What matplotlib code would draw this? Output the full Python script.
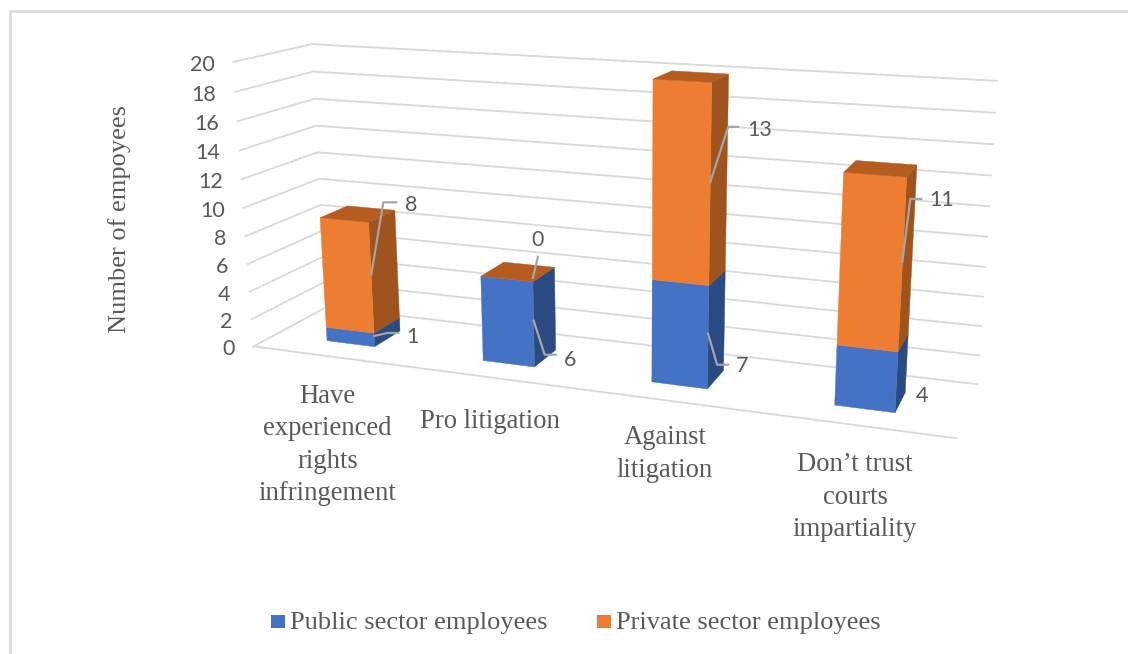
import numpy as np
import matplotlib
matplotlib.use("Agg")
import matplotlib.pyplot as plt
from matplotlib.patches import Polygon, Rectangle

# ---- data ----
categories = ["Have\nexperienced\nrights\ninfringement", "Pro litigation",
              "Against\nlitigation", "Don\u2019t trust\ncourts\nimpartiality"]
public_sector = [1, 6, 7, 4]
private_sector = [8, 0, 13, 11]
series_names = ["Public sector employees", "Private sector employees"]
y_ticks = list(range(0, 21, 2))
y_label = "Number of empoyees"

# ---- styling ----
FRONT = ["#4472C4", "#ED7D31"]
SIDE = ["#2A4A82", "#9E541C"]
TOP_COLOR = "#B55D20"
GRID = "#D9D9D9"
LEADER = "#A6A6A6"
TEXT = "#595959"
SERIF = "Liberation Serif"
NUMERIC = "Lato"

# perspective camera: (category position, depth 0..1, value) -> figure pixels
CAMERA = np.array([
    [139.7519597431, 100.9183537597, -1.589798838, 253.4382987161],
    [6.4454646915, -13.1499977802, -14.3776557397, 346.4052665689],
    [-0.0377232088, 0.0853445935, -0.0025149242, 1.0],
])
HALF_WIDTH = 0.1562
DEPTH_FRONT = 0.2925
DEPTH_BACK = 0.6734


def project(x, depth, value):
    h = CAMERA @ np.array([x, depth, value, 1.0])
    return h[0] / h[2], h[1] / h[2]


fig = plt.figure(figsize=(11.28, 6.54), dpi=100, facecolor="white")
ax = fig.add_axes([0, 0, 1, 1])
ax.set_xlim(0, 1128)
ax.set_ylim(654, 0)
ax.axis("off")

# outer chart frame, open at the right and bottom
ax.plot([9.5, 9.5, 1128], [654, 11.3, 11.3], color="#DCDCDC", lw=2.0,
        solid_joinstyle="miter", zorder=1)

# wall gridlines and value labels
n_cat = len(categories)
for v in y_ticks:
    a, b, c = project(0, 0, v), project(0, 1, v), project(n_cat, 1, v)
    ax.plot([a[0], b[0], c[0]], [a[1], b[1], c[1]], color=GRID, lw=1.3,
            solid_joinstyle="round", zorder=2)
    ax.text(a[0] - 19, a[1] + 3, str(v), ha="right", va="center",
            family=NUMERIC, fontsize=15.5, color=TEXT)
f0, f1 = project(0, 0, 0), project(n_cat, 0, 0)
ax.plot([f0[0], f1[0]], [f0[1], f1[1]], color=GRID, lw=1.3, zorder=2)


def face(points, color, z):
    ax.add_patch(Polygon(points, closed=True, facecolor=color, edgecolor=color,
                         lw=0.3, zorder=z))


# stacked columns, painted left to right
for k in range(n_cat):
    x0, x1 = k + 0.5 - HALF_WIDTH, k + 0.5 + HALF_WIDTH
    base = 0
    for s, vals in enumerate([public_sector, private_sector]):
        top = base + vals[k]
        if vals[k] > 0:
            face([project(x1, DEPTH_FRONT, base), project(x1, DEPTH_BACK, base),
                  project(x1, DEPTH_BACK, top), project(x1, DEPTH_FRONT, top)],
                 SIDE[s], 3)
            face([project(x0, DEPTH_FRONT, base), project(x1, DEPTH_FRONT, base),
                  project(x1, DEPTH_FRONT, top), project(x0, DEPTH_FRONT, top)],
                 FRONT[s], 4)
        base = top
    face([project(x0, DEPTH_FRONT, base), project(x1, DEPTH_FRONT, base),
          project(x1, DEPTH_BACK, base), project(x0, DEPTH_BACK, base)],
         TOP_COLOR, 4)

# value labels with elbow leaders: elbow offset, tail length, text offset
public_leaders = [((13, -3), 11, (38, 0)), ((11, 34), 11, (36, 38)),
                  ((9, 31), 11, (34, 31)), (None, 0, (25, 16))]
private_leaders = [((12, -72), 13, (40, -70)), ((5, -21), 0, (5, -39)),
                   ((18, -55), 10, (49, -53)), ((8, -63), 11, (39, -63))]

for k in range(n_cat):
    base = 0
    for vals, leaders in ((public_sector, public_leaders),
                          (private_sector, private_leaders)):
        mid = base + vals[k] / 2
        sx, sy = project(k + 0.5 + HALF_WIDTH, DEPTH_FRONT, mid)
        sy -= 4
        elbow, tail, (tx, ty) = leaders[k]
        if elbow is not None:
            ex, ey = sx + elbow[0], sy + elbow[1]
            ax.plot([sx, ex, ex + tail], [sy, ey, ey], color=LEADER, lw=1.6,
                    solid_joinstyle="round", zorder=5)
        ax.text(sx + tx, sy + ty + 1, str(vals[k]), ha="center", va="center",
                family=NUMERIC, fontsize=15.5, color=TEXT, zorder=6)
        base += vals[k]

# category labels below the floor
label_centres = [(327.5, 445), (490, 421), (665, 454), (855, 497)]
for name, (cx, cy) in zip(categories, label_centres):
    ax.text(cx, cy, name, ha="center", va="center", family=SERIF, fontsize=19.2,
            color=TEXT, linespacing=1.39)

ax.text(120, 219, y_label, rotation=90, ha="center", va="center", family=SERIF,
        fontsize=19, color=TEXT)

# legend
for name, color, (sq, tx) in zip(series_names, FRONT, [(270.5, 290), (596.5, 616)]):
    ax.add_patch(Rectangle((sq, 614.5), 14, 13.5, facecolor=color, edgecolor="none"))
    ax.text(tx, 623.5, name, ha="left", va="center", family=SERIF, fontsize=19, color=TEXT)

fig.savefig("out.png", dpi=100)
